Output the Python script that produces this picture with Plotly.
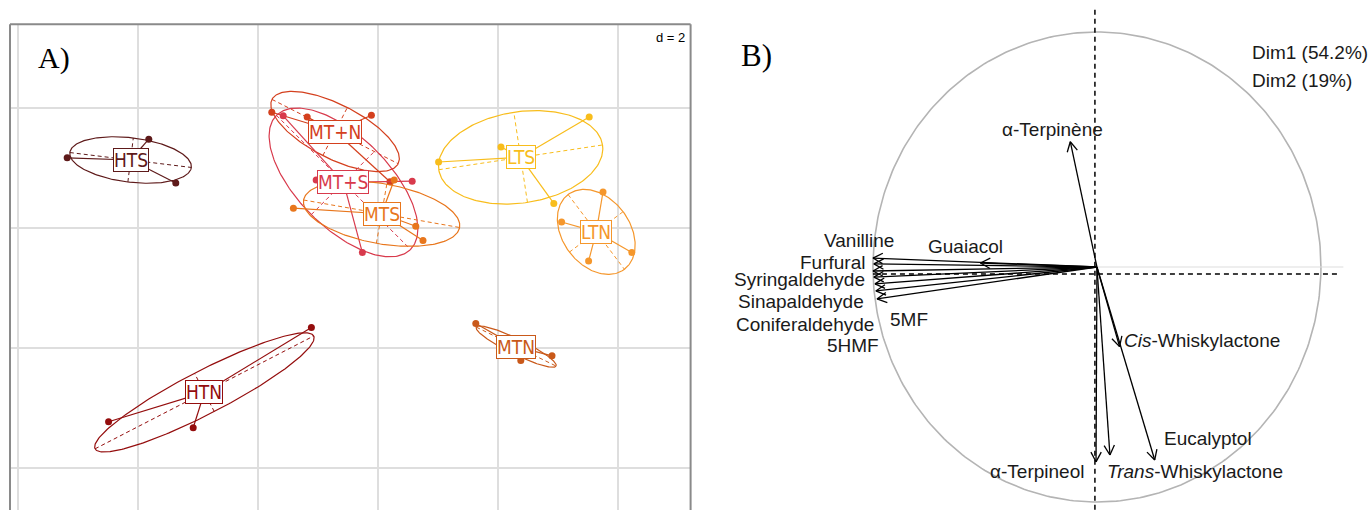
import numpy as np
import plotly.graph_objects as go

W, H = 1370, 510

# ---------------- Panel A : s.class of the samples (d = 2) ----------------
groups = ["HTS", "HTN", "MT+N", "MT+S", "MTS", "MTN", "LTS", "LTN"]
group_colors = ["#5e1a1a", "#940d0d", "#d4401e", "#d83a4c", "#e8761c", "#c9591a", "#f8bd1c", "#f5972c"]

hts_x = [-5.18, -3.82, -3.37]
hts_y = [1.17, 1.48, 0.75]
htn_x = [-4.49, -3.08, -1.11]
htn_y = [-3.23, -3.33, -1.66]
mtn_plus_x = [-1.77, -1.18, -0.11, 0.20]
mtn_plus_y = [1.93, 1.85, 1.88, 0.77]
mts_plus_x = [-1.58, -1.03, 0.57, -0.26]
mts_plus_y = [1.87, 0.80, 0.78, -0.41]
mts_x = [-1.41, 0.27, 0.63, 0.75]
mts_y = [0.33, 0.80, 0.03, -0.21]
mtn_x = [1.63, 2.90, 2.38]
mtn_y = [-1.59, -2.13, -2.21]
lts_x = [1.01, 2.05, 3.52, 2.93]
lts_y = [1.10, 1.35, 1.85, 0.41]
ltn_x = [3.75, 3.06, 4.23, 3.51]
ltn_y = [0.60, 0.10, -0.41, -0.55]

group_x = [hts_x, htn_x, mtn_plus_x, mts_plus_x, mts_x, mtn_x, lts_x, ltn_x]
group_y = [hts_y, htn_y, mtn_plus_y, mts_plus_y, mts_y, mtn_y, lts_y, ltn_y]

# inertia ellipses (semi-axes and orientation)
ellipse_a = [1.02, 2.05, 1.18, 1.58, 1.32, 0.74, 1.38, 0.78]
ellipse_b = [0.37, 0.36, 0.45, 0.76, 0.50, 0.13, 0.76, 0.56]
ellipse_angle = [-7, 27.3, -27, -45, -10, -26, 8.6, -53]

# ---------------- Panel B : correlation circle ----------------
var_names = ["α-Terpinène", "Guaiacol", "Vanilline", "Furfural", "Syringaldehyde", "5MF",
             "Coniferaldehyde", "5HMF", "Sinapaldehyde", "<i>Cis</i>-Whiskylactone",
             "α-Terpineol", "<i>Trans</i>-Whiskylactone", "Eucalyptol"]
dim1 = [-0.119, -0.52, -1.0, -0.996, -1.0, -0.996, -0.991, -0.987, -0.982, 0.101, -0.004, 0.058, 0.258]
dim2 = [0.533, 0.017, 0.038, 0.013, -0.017, -0.043, -0.072, -0.102, -0.136, -0.339, -0.829, -0.80, -0.821]
inertia_text = ["Dim1 (54.2%)", "Dim2 (19%)"]

# label placement (layout, in circle units) and anchors
label_pos = [(-0.20, 0.583, "center"), (-0.585, 0.087, "center"), (-0.897, 0.113, "right"),
             (-1.028, 0.018, "right"), (-1.028, -0.055, "right"), (-0.934, -0.225, "left"),
             (-0.988, -0.243, "right"), (-0.966, -0.336, "right"), (-1.032, -0.145, "right"),
             (0.110, -0.311, "left"), (-0.05, -0.872, "right"), (0.035, -0.872, "left"),
             (0.289, -0.730, "left")]

fig = go.Figure()

# ---- panel A traces ----
for g, col, xs, ys, a, b, ang in zip(groups, group_colors, group_x, group_y,
                                     ellipse_a, ellipse_b, ellipse_angle):
    xs = np.array(xs, float)
    ys = np.array(ys, float)
    cx, cy = xs.mean(), ys.mean()
    th = np.deg2rad(ang)
    t = np.linspace(0, 2 * np.pi, 241)
    ex = cx + a * np.cos(t) * np.cos(th) - b * np.sin(t) * np.sin(th)
    ey = cy + a * np.cos(t) * np.sin(th) + b * np.sin(t) * np.cos(th)
    fig.add_trace(go.Scatter(x=ex, y=ey, mode="lines", line=dict(color=col, width=1.2),
                             xaxis="x", yaxis="y", hoverinfo="skip"))
    # dashed ellipse axes
    axx = [cx - a * np.cos(th), cx + a * np.cos(th), None,
           cx + b * np.sin(th), cx - b * np.sin(th)]
    axy = [cy - a * np.sin(th), cy + a * np.sin(th), None,
           cy - b * np.cos(th), cy + b * np.cos(th)]
    fig.add_trace(go.Scatter(x=axx, y=axy, mode="lines",
                             line=dict(color=col, width=1, dash="4px,3px"),
                             xaxis="x", yaxis="y", hoverinfo="skip"))
    # star
    sx, sy = [], []
    for px, py in zip(xs, ys):
        sx += [cx, px, None]
        sy += [cy, py, None]
    fig.add_trace(go.Scatter(x=sx, y=sy, mode="lines", line=dict(color=col, width=1.2),
                             xaxis="x", yaxis="y", hoverinfo="skip"))
    fig.add_trace(go.Scatter(x=xs, y=ys, mode="markers",
                             marker=dict(color=col, size=7, symbol="circle"),
                             xaxis="x", yaxis="y", hoverinfo="skip"))
    fig.add_annotation(x=cx, y=cy, xref="x", yref="y", text=g, showarrow=False,
                       font=dict(family="Liberation Sans Narrow, DejaVu Sans Condensed, Arial Narrow, sans-serif",
                                 size=19, color=col),
                       bgcolor="white", bordercolor=col, borderwidth=1, borderpad=0)

# ---- panel B traces ----
SX, SY = 224.0, 235.0   # pixels per unit on the circle axes
t = np.linspace(0, 2 * np.pi, 361)
fig.add_trace(go.Scatter(x=np.cos(t), y=np.sin(t), mode="lines",
                         line=dict(color="#b4b4b4", width=1.6),
                         xaxis="x2", yaxis="y2", hoverinfo="skip"))
fig.add_trace(go.Scatter(x=[0, 1.10], y=[0, 0], mode="lines",
                         line=dict(color="#dddddd", width=1.2),
                         xaxis="x2", yaxis="y2", hoverinfo="skip"))
axis_off_x, axis_off_y = -0.009, -0.030
fig.add_trace(go.Scatter(x=[axis_off_x, axis_off_x, None, -1.0, 1.076],
                         y=[1.094, -1.04, None, axis_off_y, axis_off_y], mode="lines",
                         line=dict(color="black", width=1.5, dash="5px,4px"),
                         xaxis="x2", yaxis="y2", hoverinfo="skip"))

ax_, ay_ = [], []
L, ang = 11.0, np.deg2rad(28)
for x1, y1 in zip(dim1, dim2):
    ax_ += [0, x1, None]
    ay_ += [0, y1, None]
    dx, dy = x1 * SX, y1 * SY
    n = np.hypot(dx, dy)
    ux, uy = dx / n, dy / n
    for s in (1, -1):
        c, si = np.cos(s * ang), np.sin(s * ang)
        rx, ry = ux * c - uy * si, ux * si + uy * c
        ax_ += [x1 - L * rx / SX, x1, None]
        ay_ += [y1 - L * ry / SY, y1, None]
fig.add_trace(go.Scatter(x=ax_, y=ay_, mode="lines", line=dict(color="black", width=1.3),
                         xaxis="x2", yaxis="y2", hoverinfo="skip"))

font_b = dict(family="Liberation Sans, Arial, sans-serif", size=19, color="#1a1a1a")
for name, (lx, ly, anc) in zip(var_names, label_pos):
    fig.add_annotation(x=lx, y=ly, xref="x2", yref="y2", text=name, showarrow=False,
                       xanchor=anc, yanchor="middle", font=font_b)

for i, txt in enumerate(inertia_text):
    fig.add_annotation(x=1250 / W, y=1 - (53 + 27 * i) / H, xref="paper", yref="paper",
                       text=txt, showarrow=False, xanchor="left", yanchor="middle", font=font_b)

# ---- panel titles and scale ----
fig.add_annotation(x=36 / W, y=1 - 58 / H, xref="paper", yref="paper", text="A)", showarrow=False,
                   xanchor="left", yanchor="middle",
                   font=dict(family="Liberation Serif, Times New Roman, serif", size=30, color="black"))
fig.add_annotation(x=739 / W, y=1 - 55 / H, xref="paper", yref="paper", text="B)", showarrow=False,
                   xanchor="left", yanchor="middle",
                   font=dict(family="Liberation Serif, Times New Roman, serif", size=31, color="black"))
fig.add_annotation(x=687 / W, y=1 - 38 / H, xref="paper", yref="paper", text="d = 2", showarrow=False,
                   xanchor="right", yanchor="middle", bgcolor="white",
                   font=dict(family="Liberation Sans, Arial, sans-serif", size=13, color="black"))

# frame of panel A (left, top, right)
top = 1 - 24.3 / H
xl, xr = 10 / W, 690.6 / W
for x0, y0, x1, y1 in [(xl, 0, xl, top), (xl, top, xr, top), (xr, top, xr, 0)]:
    fig.add_shape(type="line", xref="paper", yref="paper", x0=x0, y0=y0, x1=x1, y1=y1,
                  line=dict(color="#8a8a8a", width=2))

grid = dict(showgrid=True, gridcolor="#dedede", gridwidth=1.5, zeroline=False,
            showticklabels=False, ticks="", showline=False, dtick=2, tick0=0)
fig.update_layout(
    width=W, height=H, margin=dict(l=0, r=0, t=0, b=0),
    paper_bgcolor="white", plot_bgcolor="white", showlegend=False,
    xaxis=dict(domain=[xl, xr], range=[-6.133, 5.21], **grid),
    yaxis=dict(domain=[0, top], range=[-4.7, 3.395], **grid),
    xaxis2=dict(domain=[700 / W, 1], range=[-1.772, 1.219], visible=False),
    yaxis2=dict(domain=[0, 1], range=[-1.034, 1.136], visible=False),
)

fig.write_html("out.html", config={"displayModeBar": False, "staticPlot": True},
               post_script="document.body.style.margin='0px';document.body.style.padding='0px';"
                           "document.body.style.overflow='hidden';")
